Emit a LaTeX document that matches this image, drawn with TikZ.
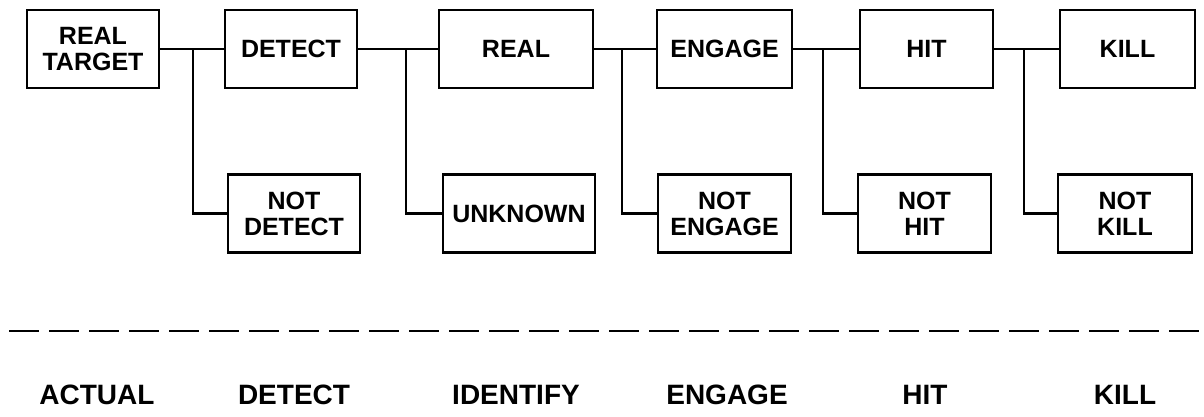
\documentclass[tikz,border=0pt]{standalone}
\usepackage{fontspec}
\setmainfont{Liberation Sans}
\usetikzlibrary{positioning}

\begin{document}
\begin{tikzpicture}[x=1pt,y=-1pt]
    \tikzstyle{block} = [rectangle, draw, line width=2.2pt, minimum height=78pt,
               inner sep=0pt, align=center,
               font=\fontsize{25}{26}\selectfont\bfseries]
    \tikzstyle{line} = [draw, line width=2.2pt]
    \tikzstyle{stage} = [font=\fontsize{28}{30}\selectfont\bfseries]

    \useasboundingbox (0,0) rectangle (1204,417);

    % Top row: success chain
    \node[block, minimum width=132pt] (target) at (93,49) {REAL\\TARGET};
    \node[block, minimum width=132pt] (detect) at (291,49) {DETECT};
    \node[block, minimum width=154pt] (real) at (516,49) {REAL};
    \node[block, minimum width=135pt] (engage) at (724.5,49) {ENGAGE};
    \node[block, minimum width=133pt] (hit) at (926.5,49) {HIT};
    \node[block, minimum width=135pt] (kill) at (1127.5,49) {KILL};

    % Bottom row: failures
    \node[block, minimum width=132pt] (notdetect) at (294,213.5) {NOT\\DETECT};
    \node[block, minimum width=152pt] (unknown) at (519,213.5) {UNKNOWN};
    \node[block, minimum width=133pt] (notengage) at (724.5,213.5) {NOT\\ENGAGE};
    \node[block, minimum width=133pt] (nothit) at (924.5,213.5) {NOT\\HIT};
    \node[block, minimum width=134pt] (notkill) at (1125,213.5) {NOT\\KILL};

    % Branch points
    \coordinate (j1) at (193,49);
    \coordinate (j2) at (406,49);
    \coordinate (j3) at (622,49);
    \coordinate (j4) at (823,49);
    \coordinate (j5) at (1024,49);

    \draw[line] (target) -- (detect);
    \draw[line] (detect) -- (real);
    \draw[line] (real) -- (engage);
    \draw[line] (engage) -- (hit);
    \draw[line] (hit) -- (kill);

    \draw[line] (j1) |- (notdetect);
    \draw[line] (j2) |- (unknown);
    \draw[line] (j3) |- (notengage);
    \draw[line] (j4) |- (nothit);
    \draw[line] (j5) |- (notkill);

    % Separator
    \coordinate (sepl) at (9,331);
    \coordinate (sepr) at (1204,331);
    \draw[line, dash pattern=on 30pt off 10pt] (sepl) -- (sepr);

    % Stage labels
    \node[stage] (sactual) at (97,395) {ACTUAL};
    \node[stage] (sdetect) at (294,395) {DETECT};
    \node[stage] (sidentify) at (516,395) {IDENTIFY};
    \node[stage] (sengage) at (727,395) {ENGAGE};
    \node[stage] (shit) at (925,395) {HIT};
    \node[stage] (skill) at (1125,395) {KILL};
  \end{tikzpicture}
\end{document}
